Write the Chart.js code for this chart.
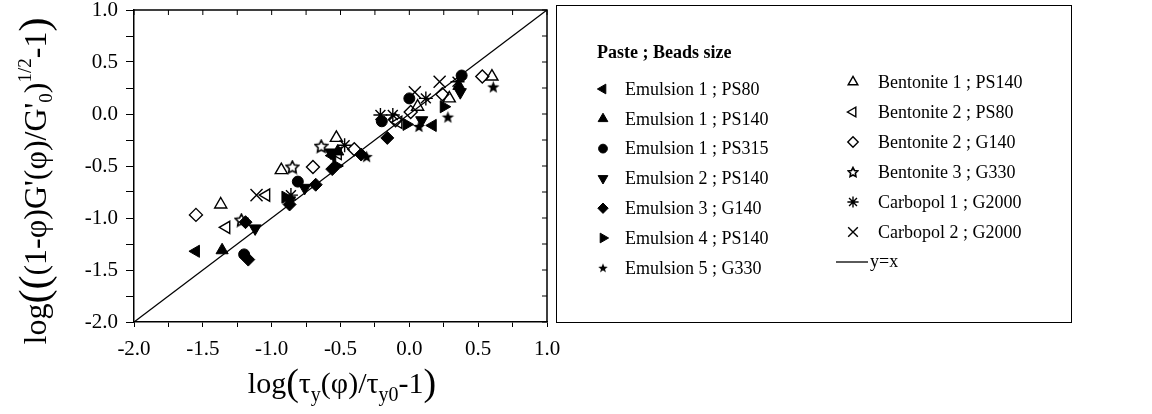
<!DOCTYPE html>
<html>
<head>
<meta charset="utf-8">
<script src="https://cdn.jsdelivr.net/npm/chart.js@4.4.1/dist/chart.umd.min.js"></script>
<style>
    html, body { margin: 0; padding: 0; background: #fff; }
    #contenedor { width: 1152px; height: 414px; position: relative; }
</style>
</head>
<body>
<div id="contenedor"><canvas id="grafico" width="1152" height="414"></canvas></div>
<script>
// Valores: log(tau_y/tau_y0 - 1) en X, log(...) en Y
const emul1Ps80X  = [-1.55, -0.56, 0.17];
const emul1Ps80Y  = [-1.32, -0.40, -0.11];
const emul1Ps140X = [-1.36, -0.52, 0.36];
const emul1Ps140Y = [-1.31, -0.36, 0.27];
const emul1Ps315X = [-1.20, -0.81, -0.20, 0.00, 0.38];
const emul1Ps315Y = [-1.35, -0.65, -0.07, 0.15, 0.37];
const emul2Ps140X = [-1.12, -0.87, -0.76, -0.57, 0.09, 0.37];
const emul2Ps140Y = [-1.10, -0.83, -0.71, -0.37, -0.06, 0.21];
const emul3G140X  = [-1.17, -1.19, -0.87, -0.68, -0.56, -0.35, -0.16];
const emul3G140Y  = [-1.40, -1.04, -0.87, -0.68, -0.53, -0.39, -0.23];
const emul4Ps140X = [-0.90, -0.53, -0.02, 0.25];
const emul4Ps140Y = [-0.80, -0.50, -0.10, 0.07];
const emul5G330X  = [-0.31, 0.07, 0.28, 0.61];
const emul5G330Y  = [-0.41, -0.12, -0.03, 0.26];
const bent1Ps140X = [-1.37, -0.93, -0.53, 0.06, 0.29, 0.60];
const bent1Ps140Y = [-0.87, -0.54, -0.23, 0.07, 0.15, 0.36];
const bent2Ps80X  = [-1.33, -1.04, -0.52, -0.08];
const bent2Ps80Y  = [-1.09, -0.78, -0.38, -0.08];
const bent2G140X  = [-1.55, -0.70, -0.40, -0.10, 0.01, 0.24, 0.53];
const bent2G140Y  = [-0.97, -0.51, -0.34, -0.06, 0.02, 0.19, 0.36];
const bent3G330X  = [-1.22, -0.85, -0.64];
const bent3G330Y  = [-1.02, -0.51, -0.31];
const carb1G2000X = [-0.86, -0.47, -0.21, -0.12, 0.12, 0.35];
const carb1G2000Y = [-0.78, -0.30, -0.01, -0.01, 0.15, 0.31];
const carb2G2000X = [-1.11, 0.04, 0.22];
const carb2G2000Y = [-0.78, 0.21, 0.31];
const lineaX = [-2, 1];
const lineaY = [-2, 1];

// Etiquetas de los ejes (solo cada 0.5)
const marcasEje = [-2.0, -1.5, -1.0, -0.5, 0.0, 0.5, 1.0];

const FUENTE = '"Liberation Serif", "Times New Roman", serif';

function puntos(xs, ys) {
    return xs.map((x, i) => ({ x: x, y: ys[i] }));
}

function crearEstrella(tam, rellena) {
    const c = document.createElement('canvas');
    c.width = tam;
    c.height = tam;
    const g = c.getContext('2d');
    const cx = tam / 2, cy = tam / 2 + 0.5;
    const rExt = tam / 2 - 1;
    const rInt = rExt * (rellena ? 0.42 : 0.5);
    g.beginPath();
    for (let i = 0; i < 10; i++) {
        const r = i % 2 === 0 ? rExt : rInt;
        const a = -Math.PI / 2 + i * Math.PI / 5;
        g.lineTo(cx + r * Math.cos(a), cy + r * Math.sin(a));
    }
    g.closePath();
    if (rellena) {
        g.fillStyle = '#000';
        g.fill();
    } else {
        g.lineWidth = 1.6;
        g.strokeStyle = '#000';
        g.stroke();
    }
    return c;
}

function serie(etiqueta, xs, ys, estilo, radio, rotacion, relleno, imgLeyenda) {
    return {
        label: etiqueta,
        data: puntos(xs, ys),
        pointStyle: estilo,
        pointRadius: radio,
        pointRotation: rotacion,
        pointBackgroundColor: relleno ? '#000' : 'rgba(0,0,0,0)',
        pointBorderColor: '#000',
        pointBorderWidth: relleno ? 1 : 1.4,
        showLine: false,
        leyendaImagen: imgLeyenda || null
    };
}

const datasets = [
    serie('Emulsion 1 ; PS80', emul1Ps80X, emul1Ps80Y, 'triangle', 7, 270, true),
    serie('Emulsion 1 ; PS140', emul1Ps140X, emul1Ps140Y, 'triangle', 7, 0, true),
    serie('Emulsion 1 ; PS315', emul1Ps315X, emul1Ps315Y, 'circle', 5.5, 0, true),
    serie('Emulsion 2 ; PS140', emul2Ps140X, emul2Ps140Y, 'triangle', 7, 180, true),
    serie('Emulsion 3 ; G140', emul3G140X, emul3G140Y, 'rectRot', 6.5, 0, true),
    serie('Emulsion 4 ; PS140', emul4Ps140X, emul4Ps140Y, 'triangle', 7, 90, true),
    serie('Emulsion 5 ; G330', emul5G330X, emul5G330Y, crearEstrella(15, true), 7, 0, true, crearEstrella(12, true)),
    serie('Bentonite 1 ; PS140', bent1Ps140X, bent1Ps140Y, 'triangle', 7, 0, false),
    serie('Bentonite 2 ; PS80', bent2Ps80X, bent2Ps80Y, 'triangle', 7, 270, false),
    serie('Bentonite 2 ; G140', bent2G140X, bent2G140Y, 'rectRot', 6.5, 0, false),
    serie('Bentonite 3 ; G330', bent3G330X, bent3G330Y, crearEstrella(15, false), 7, 0, false, crearEstrella(12, false)),
    serie('Carbopol 1 ; G2000', carb1G2000X, carb1G2000Y, 'star', 7, 0, false),
    serie('Carbopol 2 ; G2000', carb2G2000X, carb2G2000Y, 'crossRot', 8.5, 0, false),
    {
        label: 'y=x',
        data: puntos(lineaX, lineaY),
        showLine: true,
        borderColor: '#000',
        borderWidth: 1.3,
        pointRadius: 0,
        esLinea: true
    }
];

// Dibuja un texto compuesto (subindices, superindices) centrado en (0, 0)
function dibujarPartes(ctx, partes) {
    let total = 0;
    partes.forEach(p => {
        ctx.font = p.tam + 'px ' + FUENTE;
        p.ancho = ctx.measureText(p.t).width;
        total += p.ancho;
    });
    let x = -total / 2;
    partes.forEach(p => {
        ctx.font = p.tam + 'px ' + FUENTE;
        ctx.fillText(p.t, x, p.dy || 0);
        x += p.ancho;
    });
}

const marcoYTitulos = {
    id: 'marcoYTitulos',
    afterDraw(chart) {
        const ctx = chart.ctx;
        const area = chart.chartArea;
        const sx = chart.scales.x;
        const sy = chart.scales.y;
        ctx.save();
        ctx.strokeStyle = '#000';
        ctx.fillStyle = '#000';

        // Borde superior y derecho con marcas hacia dentro
        ctx.lineWidth = 1.5;
        ctx.beginPath();
        ctx.moveTo(area.left, area.top);
        ctx.lineTo(area.right, area.top);
        ctx.lineTo(area.right, area.bottom);
        ctx.stroke();
        ctx.lineWidth = 1;
        ctx.beginPath();
        for (let v = -2; v <= 1.0001; v += 0.25) {
            const px = sx.getPixelForValue(v);
            ctx.moveTo(px, area.top);
            ctx.lineTo(px, area.top + 5);
            const py = sy.getPixelForValue(v);
            ctx.moveTo(area.right, py);
            ctx.lineTo(area.right - 5, py);
        }
        ctx.stroke();

        // Titulo eje X
        ctx.textBaseline = 'alphabetic';
        ctx.save();
        ctx.translate(342, 393);
        dibujarPartes(ctx, [
            { t: 'log', tam: 30 },
            { t: '(', tam: 38, dy: 2 },
            { t: '\u03C4', tam: 30 },
            { t: 'y', tam: 20, dy: 8 },
            { t: '(\u03C6)/', tam: 30 },
            { t: '\u03C4', tam: 30 },
            { t: 'y0', tam: 20, dy: 8 },
            { t: '-1', tam: 30 },
            { t: ')', tam: 38, dy: 2 }
        ]);
        ctx.restore();

        // Titulo eje Y
        ctx.save();
        ctx.translate(46, 181);
        ctx.rotate(-Math.PI / 2);
        dibujarPartes(ctx, [
            { t: 'log', tam: 32 },
            { t: '((', tam: 42, dy: 2 },
            { t: '(1-\u03C6)G\'(\u03C6)/G\'', tam: 32 },
            { t: '0', tam: 19, dy: 6 },
            { t: ')', tam: 32 },
            { t: '1/2', tam: 19, dy: -15 },
            { t: '-1', tam: 32 },
            { t: ')', tam: 42, dy: 2 }
        ]);
        ctx.restore();
        ctx.restore();
    }
};

const leyendaCaja = {
    id: 'leyendaCaja',
    afterDraw(chart) {
        const ctx = chart.ctx;
        ctx.save();
        ctx.strokeStyle = '#000';
        ctx.lineWidth = 1;
        ctx.strokeRect(556.5, 5.5, 515, 317);

        ctx.fillStyle = '#000';
        ctx.textBaseline = 'middle';
        ctx.font = 'bold 18px ' + FUENTE;
        ctx.fillText('Paste ; Beads size', 597, 53);
        ctx.font = '18px ' + FUENTE;

        chart.data.datasets.forEach((ds, i) => {
            const col = i < 7 ? 0 : 1;
            const fila = i < 7 ? i : i - 7;
            const mx = col === 0 ? 603 : 853;
            const my = col === 0 ? 89 + fila * 29.8 : 82 + fila * 30;
            const tx = col === 0 ? 625 : 878;

            ctx.fillStyle = '#000';
            if (ds.esLinea) {
                ctx.lineWidth = 1.3;
                ctx.beginPath();
                ctx.moveTo(836, my);
                ctx.lineTo(868, my);
                ctx.stroke();
                ctx.fillText(ds.label, 870, my);
                return;
            }
            if (ds.leyendaImagen) {
                const im = ds.leyendaImagen;
                ctx.drawImage(im, mx - im.width / 2, my - im.height / 2);
            } else {
                ctx.save();
                ctx.fillStyle = ds.pointBackgroundColor;
                ctx.strokeStyle = '#000';
                ctx.lineWidth = ds.pointBorderWidth;
                Chart.helpers.drawPoint(ctx, {
                    pointStyle: ds.pointStyle,
                    rotation: ds.pointRotation,
                    radius: ds.pointRadius * 0.8,
                    borderWidth: ds.pointBorderWidth
                }, mx, my);
                ctx.restore();
            }
            ctx.fillStyle = '#000';
            ctx.fillText(ds.label, tx, my + 1);
        });
        ctx.restore();
    }
};

function etiquetaTick(valor) {
    const hit = marcasEje.find(m => Math.abs(m - valor) < 1e-6);
    return hit === undefined ? '' : Math.abs(hit).toFixed(1) === '0.0' ? '0.0' : hit.toFixed(1);
}

function sinRelleno(scale) {
    scale.paddingLeft = 0;
    scale.paddingRight = 0;
    scale.paddingTop = 0;
    scale.paddingBottom = 0;
}

const ctx = document.getElementById('grafico').getContext('2d');
new Chart(ctx, {
    type: 'scatter',
    data: { datasets: datasets },
    plugins: [marcoYTitulos, leyendaCaja],
    options: {
        responsive: false,
        animation: false,
        devicePixelRatio: 1,
        layout: { padding: { top: 10, right: 605, left: 0, bottom: 0 } },
        plugins: {
            legend: { display: false },
            tooltip: { enabled: false }
        },
        scales: {
            x: {
                type: 'linear',
                min: -2,
                max: 1,
                ticks: {
                    stepSize: 0.25,
                    autoSkip: false,
                    maxRotation: 0,
                    color: '#000',
                    padding: 10,
                    font: { family: FUENTE, size: 21 },
                    callback: etiquetaTick
                },
                grid: { drawOnChartArea: false, tickLength: 5, color: '#000', lineWidth: 1 },
                border: { color: '#000', width: 1.5 },
                afterFit: function(scale) {
                    scale.height = 92;
                    sinRelleno(scale);
                }
            },
            y: {
                type: 'linear',
                min: -2,
                max: 1,
                ticks: {
                    stepSize: 0.25,
                    autoSkip: false,
                    color: '#000',
                    padding: 8,
                    font: { family: FUENTE, size: 21 },
                    callback: etiquetaTick
                },
                grid: { drawOnChartArea: false, tickLength: 8, color: '#000', lineWidth: 1 },
                border: { color: '#000', width: 1.5 },
                afterFit: function(scale) {
                    scale.width = 134;
                    sinRelleno(scale);
                }
            }
        }
    }
});
</script>
</body>
</html>
